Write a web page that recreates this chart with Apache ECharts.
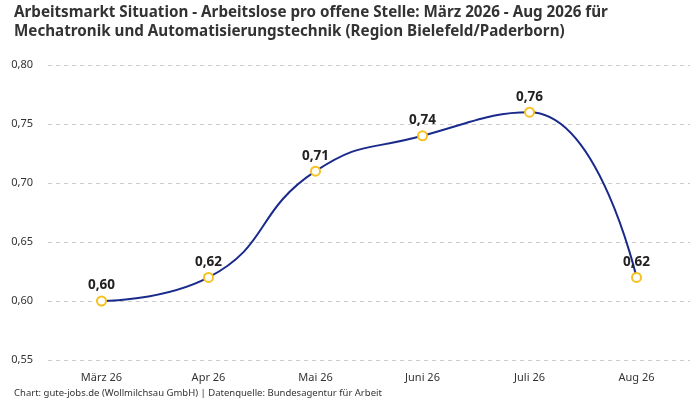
<!DOCTYPE html>
<html>
<head>
<meta charset="utf-8">
<script src="https://cdn.jsdelivr.net/npm/echarts@6/dist/echarts.min.js"></script>
<style>html,body{margin:0;padding:0;background:#fff}#c{width:700px;height:400px}</style>
</head>
<body>
<div id="c"></div>
<script>
var categories = ["März 26", "Apr 26", "Mai 26", "Juni 26", "Juli 26", "Aug 26"];
var values = [0.60, 0.62, 0.71, 0.74, 0.76, 0.62];
var titleText = "Arbeitsmarkt Situation - Arbeitslose pro offene Stelle: März 2026 - Aug 2026 für\nMechatronik und Automatisierungstechnik (Region Bielefeld/Paderborn)";
var footerText = "Chart: gute-jobs.de (Wollmilchsau GmbH) | Datenquelle: Bundesagentur für Arbeit";

var fmt = function (v) { return v.toFixed(2).replace('.', ','); };
var chart = echarts.init(document.getElementById('c'));
chart.setOption({
  animation: false,
  textStyle: { fontFamily: 'Noto Sans' },
  title: [{
    text: titleText,
    left: 9, top: -2,
    textStyle: { fontSize: 15.2, fontWeight: 'bold', color: '#333', lineHeight: 19, fontFamily: 'Noto Sans' }
  }, {
    text: footerText,
    left: 9, top: 383,
    textStyle: { fontSize: 9.5, fontWeight: 'normal', color: '#333', fontFamily: 'Noto Sans' }
  }],
  grid: { left: 48, right: 10, top: 65, bottom: 40 },
  xAxis: {
    type: 'category',
    data: categories,
    boundaryGap: true,
    axisLine: { show: false },
    axisTick: { show: false },
    axisLabel: { color: '#333', fontSize: 11, margin: 12 }
  },
  yAxis: {
    type: 'value',
    min: 0.55, max: 0.80, interval: 0.05,
    axisLabel: { color: '#333', fontSize: 11, margin: 15, formatter: fmt },
    splitLine: { lineStyle: { type: [4, 4], color: '#ccc' } }
  },
  series: [{
    type: 'line',
    data: values,
    smooth: 0.5,
    lineStyle: { color: '#1a2a8c', width: 2 },
    itemStyle: { color: '#fff', borderColor: '#f7c21e', borderWidth: 2 },
    symbol: 'circle',
    symbolSize: 9,
    label: {
      show: true, position: 'top', distance: 3,
      color: '#222', fontSize: 13.5, fontWeight: 'bold',
      formatter: function (p) { return fmt(p.value); }
    }
  }]
});
</script>
</body>
</html>
